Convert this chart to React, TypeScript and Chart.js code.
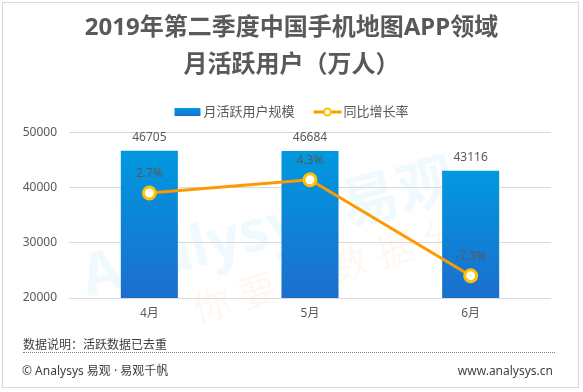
import React, { useEffect, useRef } from "react";
import { Chart, registerables } from "chart.js";

Chart.register(...registerables);

const titleLines = ["2019年第二季度中国手机地图APP领域", "月活跃用户（万人）"];
const categories = ["4月", "5月", "6月"];
const barLabel = "月活跃用户规模";
const lineLabel = "同比增长率";
const mauValues = [46705, 46684, 43116];
const growthValues = [2.7, 4.3, -7.3];
const yMin = 20000;
const yMax = 50000;
const yStep = 10000;
const y2Min = -10;
const y2Max = 10;
const noteText = "数据说明：活跃数据已去重";
const footLeft = "© Analysys 易观 · 易观千帆";
const footRight = "www.analysys.cn";

const FONT = "'Noto Sans', 'Noto Sans CJK SC', sans-serif";
const TEXT = "#595959";
const BAR_TOP = "#0099E0";
const BAR_BOTTOM = "#1C6ECD";
const LINE = "#FF9900";
const POINT_BORDER = "#FFC000";

const labelsPlugin = {
  id: "valueLabels",
  afterDatasetsDraw(chart: any) {
    const ctx = chart.ctx;
    ctx.save();
    ctx.font = `12px ${FONT}`;
    ctx.fillStyle = TEXT;
    ctx.textAlign = "center";
    ctx.textBaseline = "middle";
    chart.data.datasets.forEach((ds: any, i: number) => {
      const meta = chart.getDatasetMeta(i);
      meta.data.forEach((el: any, j: number) => {
        const v = ds.data[j];
        if (meta.type === "bar") {
          ctx.fillText(String(v), el.x, el.y - 13);
        } else {
          ctx.fillText(v.toFixed(1) + "%", el.x, el.y - 19);
        }
      });
    });
    ctx.restore();
  },
};

const legendPlugin = {
  id: "customLegend",
  afterDraw(chart: any) {
    const ctx = chart.ctx;
    ctx.save();
    ctx.font = `13px ${FONT}`;
    ctx.textBaseline = "middle";
    ctx.textAlign = "left";
    const ds0 = chart.data.datasets[0];
    const ds1 = chart.data.datasets[1];
    const w0 = ctx.measureText(ds0.label).width;
    const w1 = ctx.measureText(ds1.label).width;
    const total = 26 + 3 + w0 + 19 + 28 + 2 + w1;
    let x = chart.width / 2 - total / 2;
    const y = 112;
    const g = ctx.createLinearGradient(0, y - 4, 0, y + 4);
    g.addColorStop(0, BAR_TOP);
    g.addColorStop(1, BAR_BOTTOM);
    ctx.fillStyle = g;
    ctx.fillRect(x, y - 4, 26, 8);
    x += 29;
    ctx.fillStyle = TEXT;
    ctx.fillText(ds0.label, x, y + 0.5);
    x += w0 + 19;
    ctx.strokeStyle = LINE;
    ctx.lineWidth = 3;
    ctx.beginPath();
    ctx.moveTo(x, y);
    ctx.lineTo(x + 28, y);
    ctx.stroke();
    ctx.beginPath();
    ctx.arc(x + 14, y, 3.5, 0, Math.PI * 2);
    ctx.fillStyle = "#fff";
    ctx.fill();
    ctx.lineWidth = 2;
    ctx.strokeStyle = POINT_BORDER;
    ctx.stroke();
    x += 30;
    ctx.fillStyle = TEXT;
    ctx.fillText(ds1.label, x, y + 0.5);
    ctx.restore();
  },
};

export default function App() {
  const canvasRef = useRef<HTMLCanvasElement | null>(null);

  useEffect(() => {
    const canvas = canvasRef.current;
    if (!canvas) return;
    const chart = new Chart(canvas, {
      type: "bar",
      data: {
        labels: categories,
        datasets: [
          {
            type: "bar",
            label: barLabel,
            data: mauValues,
            yAxisID: "y",
            order: 2,
            categoryPercentage: 1,
            barPercentage: 0.355,
            backgroundColor: (c: any) => {
              const ch = c.chart;
              if (!ch.chartArea || !ch.scales || !ch.scales.y) return BAR_TOP;
              const v = c.raw ?? mauValues[c.dataIndex];
              const top = ch.scales.y.getPixelForValue(v);
              const bottom = ch.scales.y.getPixelForValue(yMin);
              if (!isFinite(top) || !isFinite(bottom) || top === bottom) return BAR_TOP;
              const g = ch.ctx.createLinearGradient(0, top, 0, bottom);
              g.addColorStop(0, BAR_TOP);
              g.addColorStop(1, BAR_BOTTOM);
              return g;
            },
            borderWidth: 0,
          } as any,
          {
            type: "line",
            label: lineLabel,
            data: growthValues,
            yAxisID: "y2",
            order: 1,
            borderColor: LINE,
            borderWidth: 3,
            pointRadius: 6,
            pointBorderWidth: 3,
            pointBackgroundColor: "#ffffff",
            pointBorderColor: POINT_BORDER,
            tension: 0,
          } as any,
        ],
      },
      options: {
        responsive: false,
        animation: false,
        devicePixelRatio: 1,
        layout: { padding: { left: 0, right: 0, top: 0, bottom: 64 } },
        plugins: {
          legend: { display: false },
          tooltip: { enabled: false },
          title: {
            display: true,
            text: titleLines,
            color: TEXT,
            font: { family: FONT, size: 24, weight: "bold", lineHeight: 37 / 24 },
            padding: { top: 9.5, bottom: 49.2 },
          },
        },
        scales: {
          x: {
            grid: { display: false, drawTicks: false },
            border: { display: false },
            ticks: { color: TEXT, font: { family: FONT, size: 12 }, padding: 8 },
            afterFit: (s: any) => {
              s.height = 30;
            },
          },
          y: {
            position: "left",
            min: yMin,
            max: yMax,
            ticks: {
              stepSize: yStep,
              color: TEXT,
              font: { family: FONT, size: 12 },
              padding: 12,
              callback: (v: any) => String(v),
            },
            grid: { color: "#d9d9d9", lineWidth: 1, drawTicks: false },
            border: { display: false },
            afterFit: (s: any) => {
              s.width = 69;
            },
          },
          y2: {
            position: "right",
            min: y2Min,
            max: y2Max,
            ticks: { display: false },
            grid: { display: false, drawTicks: false },
            border: { display: false },
            afterFit: (s: any) => {
              s.width = 32;
            },
          },
        },
      } as any,
      plugins: [labelsPlugin, legendPlugin],
    });
    return () => chart.destroy();
  }, []);

  return (
    <div
      style={{
        position: "fixed",
        left: 0,
        top: 0,
        width: 583,
        height: 392,
        background: "#fff",
        overflow: "hidden",
        fontFamily: FONT,
      }}
    >
      <div
        style={{
          position: "absolute",
          left: 2,
          top: 2,
          width: 577,
          height: 386,
          border: "1px solid #d9d9d9",
          boxSizing: "border-box",
        }}
      />
      <div
        style={{
          position: "absolute",
          left: 70,
          top: 232,
          transform: "rotate(-15deg)",
          transformOrigin: "left top",
          fontSize: 58,
          fontWeight: "bold",
          color: "rgba(0,150,225,0.06)",
          whiteSpace: "nowrap",
        }}
      >
        Analysys 易观
      </div>
      <div
        style={{
          position: "absolute",
          left: 185,
          top: 282,
          transform: "rotate(-17deg)",
          transformOrigin: "left top",
          fontSize: 38,
          color: "rgba(255,150,60,0.07)",
          whiteSpace: "nowrap",
          letterSpacing: 10,
        }}
      >
        你要的数据分析
      </div>
      <canvas
        ref={canvasRef}
        width={583}
        height={392}
        style={{ position: "absolute", left: 0, top: 0, width: 583, height: 392 }}
      />
      <div
        style={{
          position: "absolute",
          left: 23,
          top: 337,
          width: 532,
          height: 15,
          borderBottom: "1px dotted #7f7f7f",
          fontSize: 12,
          lineHeight: "16px",
          color: "#404040",
          whiteSpace: "nowrap",
        }}
      >
        {noteText}
      </div>
      <div
        style={{
          position: "absolute",
          left: 22,
          top: 363,
          fontSize: 12,
          lineHeight: "16px",
          color: "#404040",
          whiteSpace: "nowrap",
        }}
      >
        {footLeft}
      </div>
      <div
        style={{
          position: "absolute",
          right: 30,
          top: 363,
          fontSize: 12,
          lineHeight: "16px",
          color: "#404040",
          whiteSpace: "nowrap",
        }}
      >
        {footRight}
      </div>
    </div>
  );
}
